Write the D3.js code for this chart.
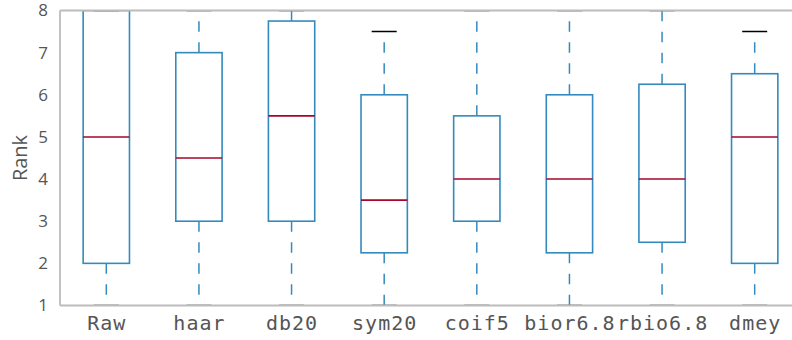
<!DOCTYPE html>
<html lang="en">
<head>
  <meta charset="UTF-8">
  <title>Rank boxplot</title>
  <style>
    body { margin: 0; background: #fff; }
    #chart { width: 792px; height: 340px; overflow: hidden; }
  </style>
</head>
<body>

<div id="chart"></div>

<script src="https://d3js.org/d3.v7.min.js"></script>
<script>

// data
const categories = ["Raw", "haar", "db20", "sym20", "coif5", "bior6.8", "rbio6.8", "dmey"];
const whiskerLow = [1, 1, 1, 1, 1, 1, 1, 1];
const q1 = [2, 3, 3, 2.25, 3, 2.25, 2.5, 2];
const median = [5, 4.5, 5.5, 3.5, 4, 4, 4, 5];
const q3 = [8, 7, 7.75, 6, 5.5, 6, 6.25, 6.5];
const whiskerHigh = [8, 8, 8, 7.5, 8, 8, 8, 7.5];
const yTicks = [1, 2, 3, 4, 5, 6, 7, 8];

const width = 792;
const height = 340;
const margin = { left: 60, top: 10.5, bottom: 34.5 };

const positions = categories.map((d, i) => i + 1);

// axes run past the right edge of the picture (cropped)
const x = d3.scaleLinear()
  .domain([0.5, categories.length + 0.5])
  .range([margin.left, margin.left + 741]);

const y = d3.scaleLinear()
  .domain([1, 8])
  .range([height - margin.bottom, margin.top]);

const svg = d3.select("#chart").append("svg")
  .attr("width", width)
  .attr("height", height);

svg.append("defs").append("clipPath")
  .attr("id", "plot-clip")
  .append("rect")
  .attr("x", x.range()[0])
  .attr("y", y.range()[1])
  .attr("width", x.range()[1] - x.range()[0])
  .attr("height", y.range()[0] - y.range()[1]);

const boxes = svg.append("g").attr("clip-path", "url(#plot-clip)");

const boxW = 0.5;
const capW = 0.27;

categories.forEach((c, i) => {
  const p = positions[i];
  const g = boxes.append("g");

  // whiskers, drawn outward from the box
  g.append("line")
    .attr("x1", x(p)).attr("x2", x(p))
    .attr("y1", y(q1[i])).attr("y2", y(whiskerLow[i]))
    .attr("stroke", "#348ABD").attr("stroke-width", 1.5)
    .attr("stroke-dasharray", "10.5,10.5");
  g.append("line")
    .attr("x1", x(p)).attr("x2", x(p))
    .attr("y1", y(q3[i])).attr("y2", y(whiskerHigh[i]))
    .attr("stroke", "#348ABD").attr("stroke-width", 1.5)
    .attr("stroke-dasharray", "10.5,10.5");

  // caps
  [whiskerLow[i], whiskerHigh[i]].forEach(v => {
    g.append("line")
      .attr("x1", x(p - capW / 2)).attr("x2", x(p + capW / 2))
      .attr("y1", y(v)).attr("y2", y(v))
      .attr("stroke", "#000").attr("stroke-width", 1.5);
  });

  // box
  g.append("rect")
    .attr("x", x(p - boxW / 2))
    .attr("y", y(q3[i]))
    .attr("width", x(p + boxW / 2) - x(p - boxW / 2))
    .attr("height", y(q1[i]) - y(q3[i]))
    .attr("fill", "none")
    .attr("stroke", "#348ABD")
    .attr("stroke-width", 1.6);

  // median
  g.append("line")
    .attr("x1", x(p - boxW / 2)).attr("x2", x(p + boxW / 2))
    .attr("y1", y(median[i])).attr("y2", y(median[i]))
    .attr("stroke", "#A60628").attr("stroke-width", 1.6);
});

// spines
const spine = "#bcbcbc";
svg.append("line")
  .attr("x1", x.range()[0]).attr("x2", x.range()[0])
  .attr("y1", y.range()[0]).attr("y2", y.range()[1])
  .attr("stroke", spine).attr("stroke-width", 1.8);
svg.append("line")
  .attr("x1", x.range()[0]).attr("x2", width)
  .attr("y1", y.range()[0]).attr("y2", y.range()[0])
  .attr("stroke", spine).attr("stroke-width", 1.8);
svg.append("line")
  .attr("x1", x.range()[0]).attr("x2", width)
  .attr("y1", y.range()[1]).attr("y2", y.range()[1])
  .attr("stroke", spine).attr("stroke-width", 1.8);

// y ticks
const yAxis = d3.axisLeft(y).tickValues(yTicks).tickSize(0).tickPadding(12).tickFormat(d3.format("d"));
svg.append("g")
  .attr("transform", `translate(${x.range()[0]},0)`)
  .call(yAxis)
  .call(g => g.select(".domain").remove())
  .call(g => g.selectAll("text")
    .attr("fill", "#555")
    .style("font-family", "'Open Sans', sans-serif")
    .style("font-size", "17px"));

// x ticks
const xAxis = d3.axisBottom(x).tickValues(positions).tickSize(0).tickPadding(10)
  .tickFormat((d, i) => categories[i]);
svg.append("g")
  .attr("transform", `translate(0,${y.range()[0]})`)
  .call(xAxis)
  .call(g => g.select(".domain").remove())
  .call(g => g.selectAll("text")
    .attr("fill", "#555")
    .style("font-family", "'DejaVu Sans Mono', monospace")
    .style("font-size", "20px")
    .style("letter-spacing", "1px"));

// y label
svg.append("text")
  .attr("transform", `translate(27,${(y.range()[0] + y.range()[1]) / 2}) rotate(-90)`)
  .attr("text-anchor", "middle")
  .attr("fill", "#555")
  .style("font-family", "'Open Sans', sans-serif")
  .style("font-size", "20px")
  .text("Rank");

</script>

</body>
</html>
